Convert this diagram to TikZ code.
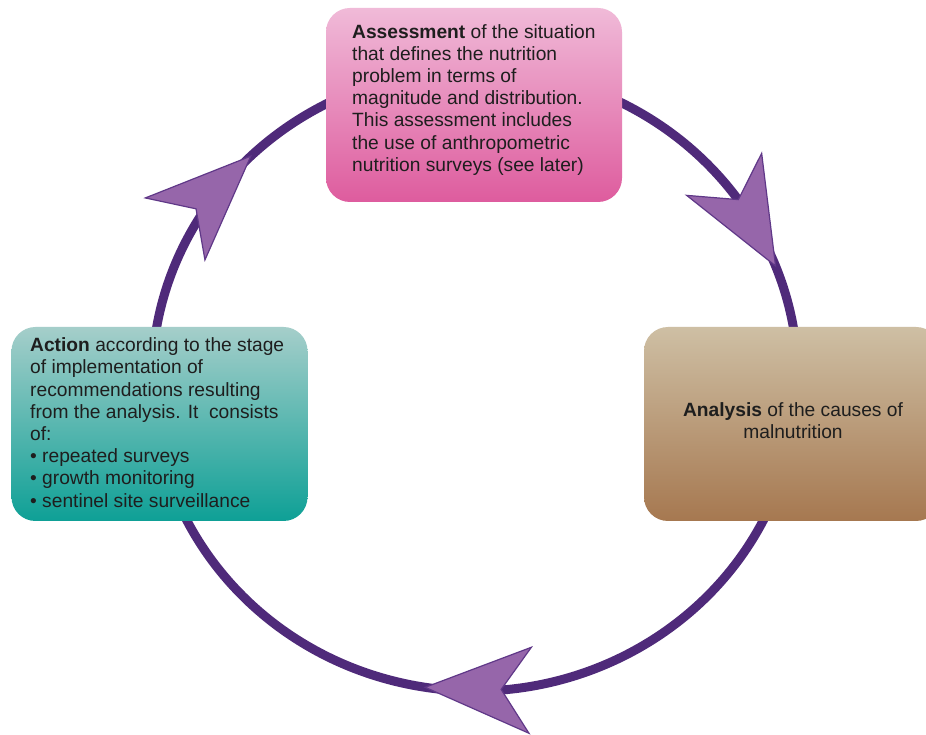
\documentclass[tikz,border=0pt]{standalone}
\usepackage{fontspec}
\setmainfont{Liberation Sans}
\usetikzlibrary{decorations.markings}

\definecolor{ringcol}{RGB}{79,42,122}
\definecolor{dartfill}{RGB}{150,102,170}
\definecolor{dartline}{RGB}{96,56,136}
\definecolor{asstop}{RGB}{240,186,216}
\definecolor{assbot}{RGB}{222,92,158}
\definecolor{acttop}{RGB}{165,206,202}
\definecolor{actbot}{RGB}{14,160,150}
\definecolor{anatop}{RGB}{206,191,164}
\definecolor{anabot}{RGB}{166,120,80}
\definecolor{txtcol}{RGB}{30,30,30}

\begin{document}
\begin{tikzpicture}[x=1pt,y=1pt,
  ring/.style={draw=ringcol, line width=9},
  card/.style={rounded corners=24, minimum width=296, minimum height=194, inner sep=0},
  txt/.style={font=\fontsize{19.2}{22.2}\selectfont, text=txtcol, inner sep=0, align=left},
  dartat/.style 2 args={postaction={decorate}, decoration={markings,
    mark=at position #1 with {\filldraw[rotate=#2, fill=dartfill, draw=dartline, line width=1.2, line join=miter]
      (0,0) -- (-105,43) -- (-76,0) -- (-105,-43) -- cycle;}}}
]
% page and clipping frame
\fill[white] (0,0) rectangle (926,734);
\useasboundingbox (0,0) rectangle (926,734);
\clip (0,0) rectangle (926,734);

% the cycle, as three elliptical arcs
\coordinate (cen) at (475,354);
\path (cen) ++(80:323 and 311) coordinate (a1);
\path (cen) ++(-15:323 and 311) coordinate (a2);
\path (cen) ++(180:323 and 311) coordinate (a3);

\draw[ring, dartat={0.735}{7}] (a1) arc[start angle=80, end angle=0, x radius=323, y radius=311];
\draw[ring, dartat={0.579}{7}] (a2) arc[start angle=-15, end angle=-160, x radius=323, y radius=311];
\draw[ring, dartat={0.57}{1}] (a3) arc[start angle=180, end angle=100, x radius=323, y radius=311];

% the three stages
\node[card, top color=asstop, bottom color=assbot] (ass) at (474,629) {};
\node[card, top color=acttop, bottom color=actbot] (act) at (159.5,310) {};
\node[card, top color=anatop, bottom color=anabot] (ana) at (792,310) {};

\node[txt, anchor=north west] (asstxt) at (352,710)
  {\textbf{Assessment} of the situation\\
   that defines the nutrition\\
   problem in terms of\\
   magnitude and distribution.\\
   This assessment includes\\
   the use of anthropometric\\
   nutrition surveys (see later)};

\node[txt, anchor=north west] (acttxt) at (30,396.5)
  {\textbf{Action} according to the stage\\
   of implementation of\\
   recommendations resulting\\
   from the analysis. It\ \ consists\\
   of:\\
   • repeated surveys\\
   • growth monitoring\\
   • sentinel site surveillance};

\node[txt, align=center, anchor=north] (anatxt) at (793,332)
  {\textbf{Analysis} of the causes of\\ malnutrition};
\end{tikzpicture}
\end{document}
